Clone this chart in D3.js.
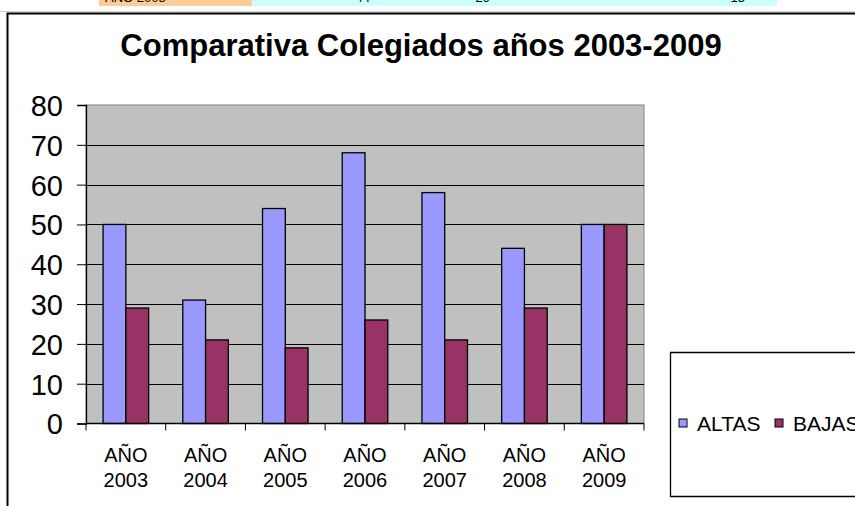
<!DOCTYPE html>
<html><head><meta charset="utf-8">
<script src="https://cdn.jsdelivr.net/npm/d3@7"></script>
<style>body{margin:0;background:#fff;}svg{display:block;font-family:Arial,"Liberation Sans",sans-serif;}</style>
</head><body>
<script>
const categories = ["AÑO 2003","AÑO 2004","AÑO 2005","AÑO 2006","AÑO 2007","AÑO 2008","AÑO 2009"];
const seriesNames = ["ALTAS","BAJAS"];
const altas = [50,31,54,68,58,44,50];
const bajas = [29,21,19,26,21,29,50];
const yTicks = [0,10,20,30,40,50,60,70,80];
const colors = ["#9999FF","#993366"];
const title = "Comparativa Colegiados años 2003-2009";
const stripLabel = "AÑO 2008";
const stripValues = ["44","29","15"];

const W = 855, H = 506;
const svg = d3.select("body").append("svg").attr("width", W).attr("height", H);

// spreadsheet strip above chart
svg.append("rect").attr("x",99).attr("y",0).attr("width",153).attr("height",6).attr("fill","#FFCC99");
svg.append("rect").attr("x",252).attr("y",0).attr("width",525).attr("height",6).attr("fill","#CCFFFF");
svg.append("clipPath").attr("id","strip").append("rect").attr("x",0).attr("y",0).attr("width",W).attr("height",5);
const sg = svg.append("g").attr("clip-path","url(#strip)").attr("font-size",13).attr("fill","#000");
sg.append("text").attr("x",105).attr("y",2).text(stripLabel);
const stripX = d3.scaleOrdinal().domain(stripValues).range([370,490,745]);
sg.selectAll("text.v").data(stripValues).join("text").attr("class","v")
  .attr("x",d=>stripX(d)).attr("y",2).attr("text-anchor","end").text(d=>d);
svg.append("line").attr("x1",0).attr("x2",W).attr("y1",11.5).attr("y2",11.5).attr("stroke","#d0d0d0").attr("stroke-width",1);

// chart area border
svg.append("path").attr("d",`M7.5,${H+2}V13.5H${W+2}`).attr("fill","none").attr("stroke","#000").attr("stroke-width",2);

// title
svg.append("text").attr("x",421).attr("y",56).attr("text-anchor","middle")
  .attr("font-size",31).attr("font-weight","bold").text(title);

const pl = 86, pr = 644, pt = 105, pb = 423.5;
const x = d3.scaleBand().domain(categories).range([pl,pr]).paddingInner(0).paddingOuter(0);
const xs = d3.scaleBand().domain(seriesNames).range([0,x.bandwidth()]).paddingInner(0).paddingOuter(0.75);
const y = d3.scaleLinear().domain([0,80]).range([pb,pt]);

// plot background
svg.append("rect").attr("x",pl).attr("y",pt).attr("width",pr-pl).attr("height",pb-pt)
  .attr("fill","#C0C0C0").attr("stroke","#808080").attr("stroke-width",1);

// gridlines
svg.append("g").selectAll("line").data(yTicks.filter(t=>t>0 && t<80)).join("line")
  .attr("x1",pl).attr("x2",pr).attr("y1",d=>Math.round(y(d))+0.5).attr("y2",d=>Math.round(y(d))+0.5)
  .attr("stroke","#000").attr("stroke-width",1);

// bars
const data = categories.map((c,i)=>({c, vals:[altas[i], bajas[i]]}));
const groups = svg.append("g").selectAll("g").data(data).join("g")
  .attr("transform",d=>`translate(${x(d.c)},0)`);
groups.selectAll("rect").data(d=>d.vals.map((v,j)=>({s:seriesNames[j], v, j}))).join("rect")
  .attr("x",d=>xs(d.s)).attr("width",xs.bandwidth())
  .attr("y",d=>y(d.v)).attr("height",d=>y(0)-y(d.v))
  .attr("fill",d=>colors[d.j]).attr("stroke","#000").attr("stroke-width",1.3);

// y axis
const yAxis = d3.axisLeft(y).tickValues(yTicks).tickSize(9).tickPadding(14).tickFormat(d3.format("d"));
const ya = svg.append("g").attr("transform",`translate(${pl},0)`).call(yAxis);
ya.select(".domain").attr("stroke","#000").attr("stroke-width",1.3);
ya.selectAll(".tick line").attr("stroke","#000");
ya.selectAll(".tick text").attr("font-size",29).attr("font-family","Arial,'Liberation Sans',sans-serif").attr("fill","#000").attr("dy","0.36em");

// x axis
const xa = svg.append("g").attr("transform",`translate(0,${pb})`);
xa.append("line").attr("x1",pl).attr("x2",pr).attr("y1",0).attr("y2",0).attr("stroke","#000").attr("stroke-width",1.3);
const bounds = categories.map(c=>x(c)).concat([x(categories[categories.length-1])+x.bandwidth()]);
xa.selectAll("line.tk").data(bounds).join("line").attr("class","tk")
  .attr("x1",d=>d).attr("x2",d=>d).attr("y1",0).attr("y2",7).attr("stroke","#000");
const lbl = xa.selectAll("g.lbl").data(categories).join("g").attr("class","lbl")
  .attr("transform",d=>`translate(${x(d)+x.bandwidth()/2},0)`);
lbl.append("text").attr("y",38).attr("text-anchor","middle").attr("font-size",20).text(d=>d.split(" ")[0]);
lbl.append("text").attr("y",63).attr("text-anchor","middle").attr("font-size",20).text(d=>d.split(" ")[1]);

// legend
svg.append("path").attr("d",`M${W+2},352.5H670.5V496.5H${W+2}`).attr("fill","#fff").attr("stroke","#000").attr("stroke-width",1.3);
const legX = d3.scaleOrdinal().domain(seriesNames).range([679,775]);
const lg = svg.append("g").selectAll("g").data(seriesNames).join("g")
  .attr("transform",d=>`translate(${legX(d)},0)`);
lg.append("rect").attr("x",0).attr("y",419).attr("width",8).attr("height",8)
  .attr("fill",(d,i)=>colors[i]).attr("stroke","#000").attr("stroke-width",1);
lg.append("text").attr("x",18).attr("y",431).attr("font-size",21).text(d=>d);
</script>
</body></html>
